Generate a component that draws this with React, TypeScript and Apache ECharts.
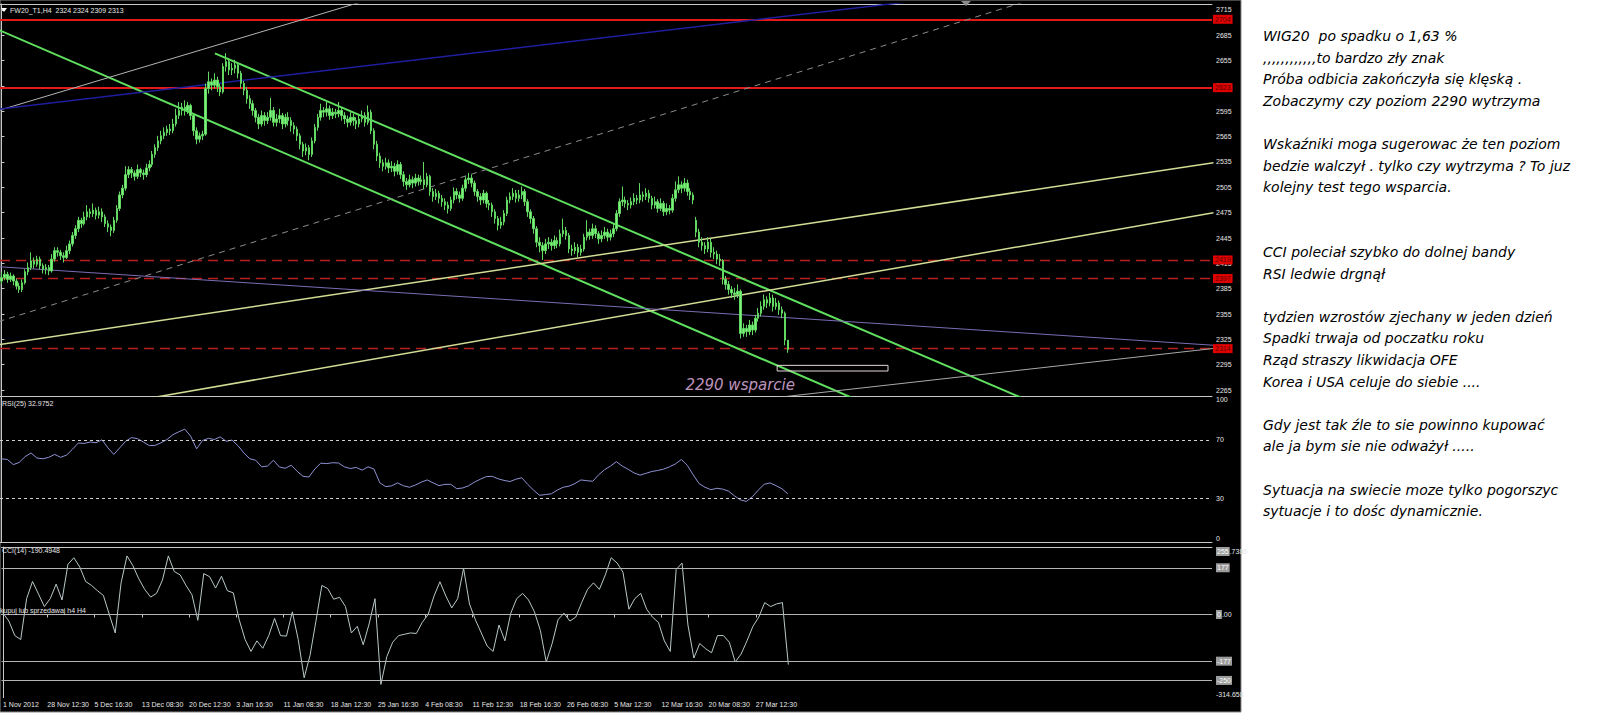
import React, { useEffect, useRef } from "react";
import * as echarts from "echarts";

// ---------- data ----------
const SLOTS = 410; // bar slots across the chart window (H4 bars)
const FIRST_TICK = 15;
const TICK_STEP = 16;
const firstLabel = "1 Nov 2012";
const timeLabels = [
  "28 Nov 12:30", "5 Dec 16:30", "13 Dec 08:30", "20 Dec 12:30", "3 Jan 16:30", "11 Jan 08:30",
  "18 Jan 12:30", "25 Jan 16:30", "4 Feb 08:30", "11 Feb 12:30", "18 Feb 16:30", "26 Feb 08:30",
  "5 Mar 12:30", "12 Mar 16:30", "20 Mar 08:30", "27 Mar 12:30",
];
const priceTicks = [2715, 2685, 2655, 2625, 2595, 2565, 2535, 2505, 2475, 2445, 2415, 2385, 2355, 2325, 2295, 2265];
const rsiTicks = [70, 30];
const cciTicks = [177, 0, -177, -250];
const cciMax = 255.7386;
const cciMin = -314.658;

// [open, close, low, high]
const ohlc = [
  [2394,2398,2390,2404],[2398,2402,2395,2407],[2402,2396,2392,2405],[2396,2400,2393,2404],[2400,2394,2389,2402],
  [2394,2388,2384,2397],[2388,2384,2380,2392],[2384,2392,2381,2396],[2392,2405,2390,2408],[2405,2410,2401,2416],
  [2410,2418,2407,2428],[2418,2414,2409,2422],[2414,2420,2411,2424],[2420,2412,2408,2423],[2412,2408,2403,2415],
  [2408,2410,2402,2414],[2410,2406,2401,2413],[2406,2420,2404,2426],[2420,2430,2417,2434],[2430,2428,2423,2434],
  [2428,2424,2419,2431],[2424,2422,2416,2428],[2422,2430,2420,2436],[2430,2438,2426,2442],[2438,2448,2435,2452],
  [2448,2456,2444,2460],[2456,2466,2452,2470],[2466,2462,2457,2469],[2462,2470,2460,2476],[2470,2476,2466,2484],
  [2476,2474,2469,2480],[2474,2478,2470,2486],[2478,2472,2467,2481],[2472,2476,2468,2482],[2476,2470,2464,2480],
  [2470,2462,2458,2473],[2462,2458,2452,2466],[2458,2454,2447,2461],[2454,2466,2451,2470],[2466,2480,2463,2484],
  [2480,2496,2477,2500],[2496,2504,2492,2508],[2504,2520,2501,2530],[2520,2526,2516,2530],[2526,2522,2516,2529],
  [2522,2518,2513,2525],[2518,2526,2515,2532],[2526,2522,2517,2528],[2522,2520,2514,2526],[2520,2528,2517,2533],
  [2528,2532,2524,2537],[2532,2544,2529,2548],[2544,2552,2540,2556],[2552,2560,2548,2566],[2560,2566,2556,2572],
  [2566,2570,2562,2576],[2570,2574,2566,2578],[2574,2572,2567,2580],[2572,2580,2569,2586],[2580,2590,2577,2598],
  [2590,2596,2586,2606],[2596,2600,2590,2605],[2600,2596,2590,2608],[2596,2602,2592,2606],[2602,2590,2585,2604],
  [2590,2572,2566,2592],[2572,2562,2556,2576],[2562,2566,2558,2570],[2566,2568,2561,2572],[2568,2622,2566,2628],
  [2622,2630,2616,2642],[2630,2626,2620,2634],[2626,2632,2622,2640],[2632,2624,2618,2636],[2624,2618,2613,2628],
  [2618,2648,2616,2652],[2648,2654,2642,2664],[2654,2644,2638,2658],[2644,2646,2638,2652],[2646,2650,2640,2656],
  [2650,2640,2634,2652],[2640,2628,2622,2643],[2628,2620,2614,2631],[2620,2610,2604,2624],[2610,2604,2598,2614],
  [2604,2596,2590,2608],[2596,2588,2582,2599],[2588,2580,2574,2592],[2580,2590,2577,2596],[2590,2584,2578,2594],
  [2584,2588,2580,2594],[2588,2596,2584,2611],[2596,2582,2577,2600],[2582,2586,2577,2592],[2586,2590,2581,2598],
  [2590,2580,2574,2593],[2580,2588,2576,2592],[2588,2584,2578,2594],[2584,2578,2571,2588],[2578,2574,2568,2582],
  [2574,2566,2560,2577],[2566,2556,2550,2569],[2556,2548,2541,2559],[2548,2552,2543,2557],[2552,2544,2537,2555],
  [2544,2560,2541,2564],[2560,2576,2557,2580],[2576,2588,2572,2592],[2588,2596,2584,2604],[2596,2594,2588,2600],
  [2594,2598,2589,2606],[2598,2590,2585,2602],[2590,2594,2586,2599],[2594,2592,2587,2598],[2592,2596,2588,2606],
  [2596,2590,2584,2599],[2590,2586,2580,2594],[2586,2582,2576,2590],[2582,2588,2578,2594],[2588,2584,2578,2592],
  [2584,2580,2574,2588],[2580,2586,2576,2592],[2586,2590,2582,2596],[2590,2582,2577,2594],[2582,2594,2579,2602],
  [2594,2572,2568,2597],[2572,2556,2550,2575],[2556,2542,2536,2560],[2542,2534,2528,2546],[2534,2530,2524,2538],
  [2530,2534,2526,2540],[2534,2528,2522,2538],[2528,2530,2523,2536],[2530,2524,2518,2534],[2524,2532,2520,2537],
  [2532,2520,2515,2535],[2520,2512,2506,2524],[2512,2508,2502,2516],[2508,2514,2505,2520],[2514,2510,2504,2518],
  [2510,2516,2506,2521],[2516,2512,2507,2520],[2512,2514,2508,2519],[2514,2508,2503,2535],[2508,2518,2505,2522],
  [2518,2500,2495,2520],[2500,2494,2488,2504],[2494,2498,2490,2503],[2498,2492,2486,2501],[2492,2488,2482,2496],
  [2488,2484,2478,2492],[2484,2480,2474,2488],[2480,2490,2477,2494],[2490,2500,2486,2505],[2500,2496,2491,2504],
  [2496,2492,2487,2500],[2492,2504,2489,2508],[2504,2514,2500,2518],[2514,2516,2509,2522],[2516,2510,2505,2520],
  [2510,2500,2495,2513],[2500,2494,2488,2503],[2494,2490,2484,2498],[2490,2498,2486,2502],[2498,2486,2481,2500],
  [2486,2484,2478,2490],[2484,2476,2470,2487],[2476,2468,2462,2479],[2468,2460,2454,2471],[2460,2464,2456,2470],
  [2464,2474,2460,2478],[2474,2490,2471,2494],[2490,2494,2486,2499],[2494,2498,2490,2504],[2498,2492,2487,2502],
  [2492,2496,2488,2502],[2496,2500,2491,2506],[2500,2488,2483,2503],[2488,2476,2470,2491],[2476,2468,2462,2479],
  [2468,2456,2450,2471],[2456,2440,2434,2459],[2440,2436,2428,2446],[2436,2430,2419,2440],[2430,2438,2426,2444],
  [2438,2440,2432,2446],[2440,2436,2430,2444],[2436,2442,2432,2448],[2442,2438,2433,2446],[2438,2450,2435,2455],
  [2450,2454,2446,2468],[2454,2448,2443,2458],[2448,2432,2427,2451],[2432,2430,2424,2437],[2430,2434,2426,2440],
  [2434,2428,2422,2438],[2428,2432,2424,2437],[2432,2446,2429,2450],[2446,2452,2442,2466],[2452,2448,2443,2456],
  [2448,2456,2444,2462],[2456,2450,2445,2460],[2450,2444,2438,2453],[2444,2448,2440,2454],[2448,2452,2444,2458],
  [2452,2446,2441,2456],[2446,2450,2442,2455],[2450,2456,2446,2462],[2456,2474,2453,2478],[2474,2488,2470,2492],
  [2488,2490,2483,2506],[2490,2486,2481,2494],[2486,2484,2478,2490],[2484,2488,2480,2493],[2488,2492,2484,2498],
  [2492,2490,2485,2496],[2490,2496,2486,2510],[2496,2494,2488,2500],[2494,2498,2490,2504],[2498,2492,2487,2502],
  [2492,2484,2479,2495],[2484,2488,2480,2494],[2488,2480,2475,2491],[2480,2486,2477,2492],[2486,2476,2471,2489],
  [2476,2480,2472,2486],[2480,2478,2473,2484],[2478,2492,2475,2497],[2492,2502,2488,2512],[2502,2508,2498,2518],
  [2508,2504,2498,2512],[2504,2510,2500,2516],[2510,2500,2495,2514],[2500,2496,2490,2504],[2496,2490,2485,2499],
  [2466,2452,2446,2470],[2452,2440,2434,2456],[2440,2436,2430,2446],[2436,2432,2426,2440],[2432,2440,2428,2446],
  [2440,2428,2422,2444],[2428,2426,2420,2434],[2426,2420,2414,2430],[2420,2418,2412,2426],[2418,2396,2390,2420],
  [2396,2390,2384,2400],[2390,2384,2378,2394],[2384,2380,2374,2388],[2380,2378,2372,2386],[2378,2382,2374,2390],
  [2382,2332,2326,2384],[2332,2338,2328,2344],[2338,2334,2328,2342],[2334,2342,2330,2348],[2342,2336,2330,2346],
  [2336,2350,2333,2354],[2350,2356,2346,2362],[2356,2364,2352,2370],[2364,2372,2360,2378],[2372,2368,2362,2376],
  [2368,2374,2364,2380],[2374,2364,2358,2378],[2364,2368,2360,2374],[2368,2360,2354,2371],[2360,2356,2350,2364],
  [2356,2324,2318,2358],[2324,2313,2309,2324],
];

// RSI(25) and CCI(14), read every second bar
const RSI_STEP = 2;
const rsiValues = [
  57, 56.5, 53, 54.5, 58.5, 61, 57.5, 57, 58, 60, 58, 59.5, 63.5, 67.8, 67.5, 68.5, 68, 70, 64.5, 60,
  64.5, 69, 71.5, 70.8, 68.5, 66, 66.2, 68, 70.2, 73.5, 75.5, 77.3, 72.5, 63.8, 69.5, 71, 70.2, 72, 69, 69.8,
  66, 61, 57, 56, 51.5, 52, 56, 51.4, 50.5, 52.6, 48.5, 45, 44.5, 50, 54, 53.7, 54.3, 54.1, 51.5, 50.3,
  51.1, 49.2, 51.5, 50, 40.5, 37.9, 38.5, 40.5, 38.5, 37.5, 39, 41, 42.5, 40.5, 38.6, 39.5, 39.5, 36.5, 37, 38.5,
  41, 43, 44.8, 45, 43.3, 42.2, 41.4, 43, 44, 39.5, 35.5, 32, 32.5, 33, 35.5, 37.5, 38.3, 40, 42.5, 42,
  41.6, 46, 49.5, 52, 55, 52, 49.8, 47.3, 45.8, 47, 48.3, 49, 49.9, 51.5, 53.5, 56.5, 52.5, 46, 40, 37.5,
  35.8, 36.8, 36.2, 34.8, 31.5, 28.8, 27.8, 31, 35.5, 39.5, 40.5, 38.6, 36.5, 33,
];
const cciValues = [
  5, -25, -80, -95, 60, 125, 78, 30, 60, 115, 55, 190, 215, 180, 125, 110, 90, 72, 0, -70,
  120, 222, 185, 135, 95, 66, 80, 130, 222, 163, 150, 110, 75, -22, 155, 143, 100, 145, 90, 82,
  -20, -95, -140, -100, -128, -80, -15, -80, -82, 10, -95, -240, -155, -25, 110, 98, 58, 65, 30, -70,
  -45, -115, -36, 60, -265, -160, -105, -80, -75, -70, -72, -30, 0, 70, 124, 70, 25, 60, 175, 40,
  -20, -70, -120, -140, -40, -100, 5, 60, 80, 55, 10, -60, -180, -110, -20, 5, -25, -10, 45, 95,
  120, 95, 150, 215, 195, 160, 20, 60, 80, 20, -10, -30, -100, -140, 170, 195, -40, -165, -110, -130,
  -145, -80, -80, -105, -180, -150, -100, -45, -10, 45, 30, 40, 45, -190,
];

// horizontal levels
const solidLevels = [2704, 2623];
const dashedLevels = [2419, 2397, 2314];

// trend lines: [bar index, price] pairs
const channelLower = [[-1, 2691.5], [288, 2255.4]];
const channelUpper = [[72.2, 2663.7], [345, 2255.9]];
const grayRay = [[-1, 2596], [125, 2728]];
const blueLine = [[-1, 2597.6], [310, 2726]];
const dashedRay = [[-1, 2346], [350, 2729]];
const yellowUpper = [[-1, 2318.5], [410, 2534]];
const yellowLower = [[44, 2251.6], [410, 2474.9]];
const purpleLine = [[-1, 2411], [410, 2318]];
const grayLower = [[250, 2251.3], [410, 2314.2]];
const supportBox = [[262.4, 2294.2], [299.9, 2287.5]];
const supportNote = { text: "2290 wsparcie", at: [231.2, 2271] };

const header = "FW20_T1,H4  2324 2324 2309 2313";
const rsiHeader = "RSI(25) 32.9752";
const cciHeader = "CCI(14) -190.4948";
const indicatorNote = "kupuj lub sprzedawaj h4 H4";

const commentLines = [
  "WIG20  po spadku o 1,63 %",
  ",,,,,,,,,,,,to bardzo zły znak",
  "Próba odbicia zakończyła się klęską .",
  "Zobaczymy czy poziom 2290 wytrzyma",
  "",
  "Wskaźniki moga sugerowac że ten poziom",
  "bedzie walczył . tylko czy wytrzyma ? To juz",
  "kolejny test tego wsparcia.",
  "",
  "",
  "CCI poleciał szybko do dolnej bandy",
  "RSI ledwie drgnął",
  "",
  "tydzien wzrostów zjechany w jeden dzień",
  "Spadki trwaja od poczatku roku",
  "Rząd straszy likwidacja OFE",
  "Korea i USA celuje do siebie ....",
  "",
  "Gdy jest tak źle to sie powinno kupować",
  "ale ja bym sie nie odważył .....",
  "",
  "Sytuacja na swiecie moze tylko pogorszyc",
  "sytuacje i to dośc dynamicznie.",
];

// ---------- chart ----------
const SMALL_FONT = "'Liberation Sans', Arial, sans-serif";
const AXIS_COLOR = "#c8c8c8";
const LABEL_COLOR = "#e6e6e6";

const categories = Array.from({ length: SLOTS }, (_, i) => {
  if (i === 0) return firstLabel;
  const k = (i - FIRST_TICK) / TICK_STEP;
  if (i >= FIRST_TICK && Number.isInteger(k) && k < timeLabels.length) return timeLabels[k];
  return "";
});
const showTick = (i: number) => categories[i] !== "";

function lineSeries(name: string, pts: number[][], color: string, width: number, type: any = "solid") {
  return {
    name,
    type: "line",
    xAxisIndex: 1,
    yAxisIndex: 0,
    data: pts,
    symbol: "none",
    clip: true,
    silent: true,
    z: 3,
    lineStyle: { color, width, type },
  };
}

export default function App() {
  const ref = useRef<HTMLDivElement>(null);
  useEffect(() => {
    if (!ref.current) return;
    const chart = echarts.init(ref.current, undefined, { renderer: "svg" });

    const valueX = (grid: number, position: string, showLine: boolean) => ({
      type: "value",
      gridIndex: grid,
      min: -0.5,
      max: SLOTS - 0.5,
      position,
      axisLine: { show: showLine, onZero: false, lineStyle: { color: AXIS_COLOR, width: 1 } },
      axisTick: { show: false },
      axisLabel: { show: false },
      splitLine: { show: false },
    });

    const yBase = (grid: number, min: number, max: number) => ({
      type: "value",
      gridIndex: grid,
      position: "right",
      min,
      max,
      splitLine: { show: false },
      axisLine: { show: true, lineStyle: { color: AXIS_COLOR, width: 1 } },
      axisTick: { show: false },
    });
    const plainNum = (v: number) => String(v);
    const smallLabel = { color: LABEL_COLOR, fontSize: 7, fontFamily: SMALL_FONT, margin: 4, formatter: plainNum };
    const box = { backgroundColor: "#9c9c9c", color: "#ffffff", fontSize: 7, fontFamily: SMALL_FONT, padding: [1, 1] };
    const plain = { color: LABEL_COLOR, fontSize: 7, fontFamily: SMALL_FONT };

    const cciFormat = (v: number) => {
      if (v === 0) return "{b|0}{n|.00}";
      return "{b|" + String(v) + "}";
    };
    const maxParts = String(cciMax).split(".");

    const option: any = {
      animation: false,
      backgroundColor: "transparent",
      grid: [
        { left: 0, top: 4, width: 1212, height: 392 },
        { left: 0, top: 396, width: 1212, height: 146 },
        { left: 0, top: 547, width: 1212, height: 150.5 },
      ],
      xAxis: [
        {
          type: "category", gridIndex: 0, data: categories, boundaryGap: true,
          axisLine: { show: true, lineStyle: { color: AXIS_COLOR } }, axisTick: { show: false }, axisLabel: { show: false },
        },
        valueX(0, "top", true),
        valueX(1, "bottom", true),
        valueX(2, "top", true),
        {
          type: "category", gridIndex: 2, data: categories, boundaryGap: true, position: "bottom",
          axisLine: { show: true, lineStyle: { color: AXIS_COLOR } },
          axisTick: { show: true, interval: showTick, alignWithLabel: true, length: 3, lineStyle: { color: AXIS_COLOR } },
          axisLabel: { show: true, interval: showTick, align: "left", margin: 3, color: LABEL_COLOR, fontSize: 7, fontFamily: SMALL_FONT },
        },
      ],
      yAxis: [
        {
          ...yBase(0, 2257.9, 2722.1),
          axisTick: { show: true, length: 3, customValues: priceTicks, lineStyle: { color: AXIS_COLOR } },
          axisLabel: { ...smallLabel, customValues: priceTicks },
        },
        {
          ...yBase(1, 0, 100),
          axisLabel: { ...smallLabel, customValues: rsiTicks },
        },
        {
          ...yBase(1, 0, 100), axisLine: { show: false },
          axisLabel: { ...smallLabel, customValues: [100], verticalAlign: "top" },
        },
        {
          ...yBase(1, 0, 100), axisLine: { show: false },
          axisLabel: { ...smallLabel, customValues: [0], verticalAlign: "bottom" },
        },
        {
          ...yBase(2, cciMin, cciMax),
          axisLabel: { ...smallLabel, customValues: cciTicks, formatter: cciFormat, rich: { b: box, n: plain } },
        },
        {
          ...yBase(2, cciMin, cciMax), axisLine: { show: false },
          axisLabel: {
            ...smallLabel, customValues: [cciMax], verticalAlign: "top",
            formatter: () => "{b|" + maxParts[0] + "}{n|." + maxParts[1] + "}",
            rich: { b: box, n: plain },
          },
        },
        {
          ...yBase(2, cciMin, cciMax), axisLine: { show: false },
          axisLabel: { ...smallLabel, customValues: [cciMin], verticalAlign: "bottom" },
        },
      ],
      series: [
        {
          name: "FW20",
          type: "candlestick",
          xAxisIndex: 0,
          yAxisIndex: 0,
          data: ohlc,
          barWidth: 2,
          z: 4,
          silent: true,
          itemStyle: {
            color: "#7ef27e", color0: "#7ef27e", borderColor: "#62d862", borderColor0: "#62d862", borderWidth: 1,
          },
          markLine: {
            symbol: ["none", "none"],
            silent: true,
            animation: false,
            z: 2,
            label: {
              show: true, position: "end", distance: 1, formatter: (p: any) => String(p.value),
              backgroundColor: "#e00000", color: "#5a0000", fontSize: 7, fontFamily: SMALL_FONT, padding: [1, 2],
            },
            data: [
              ...solidLevels.map((v) => ({ yAxis: v, lineStyle: { color: "#e41a1a", width: 2, type: "solid" } })),
              ...dashedLevels.map((v) => ({ yAxis: v, lineStyle: { color: "#b82020", width: 1.3, type: [10, 6] } })),
            ],
          },
        },
        lineSeries("channelLower", channelLower, "#5fe05f", 2),
        lineSeries("channelUpper", channelUpper, "#5fe05f", 2),
        lineSeries("grayRay", grayRay, "#b4b4b4", 1),
        lineSeries("blueLine", blueLine, "#1e1e9e", 1.5),
        lineSeries("dashedRay", dashedRay, "#8c8c8c", 1, [6, 5]),
        lineSeries("yellowUpper", yellowUpper, "#d4dc96", 1.5),
        lineSeries("yellowLower", yellowLower, "#d4dc96", 1.5),
        lineSeries("purpleLine", purpleLine, "#7c6cb4", 1),
        lineSeries("grayLower", grayLower, "#a8a8a8", 1),
        lineSeries(
          "supportBox",
          [
            [supportBox[0][0], supportBox[0][1]],
            [supportBox[1][0], supportBox[0][1]],
            [supportBox[1][0], supportBox[1][1]],
            [supportBox[0][0], supportBox[1][1]],
            [supportBox[0][0], supportBox[0][1]],
          ],
          "#e6d8d8",
          1
        ),
        {
          name: "note",
          type: "scatter",
          xAxisIndex: 1,
          yAxisIndex: 0,
          data: [supportNote.at],
          symbolSize: 1,
          itemStyle: { color: "rgba(0,0,0,0)" },
          silent: true,
          z: 6,
          label: {
            show: true, position: "right", distance: 0, formatter: supportNote.text,
            color: "#ecbcec", fontSize: 15, fontStyle: "italic", fontFamily: "'Comic Sans MS', 'DejaVu Sans', sans-serif",
          },
        },
        {
          name: "RSI",
          type: "line",
          xAxisIndex: 2,
          yAxisIndex: 1,
          data: rsiValues.map((v, k) => [k * RSI_STEP, v]),
          symbol: "none",
          silent: true,
          lineStyle: { color: "#8e92d2", width: 1 },
          markLine: {
            symbol: ["none", "none"], silent: true, label: { show: false },
            lineStyle: { color: "#d0d0d0", width: 1, type: [3, 3] },
            data: rsiTicks.map((v) => ({ yAxis: v })),
          },
        },
        {
          name: "CCI",
          type: "line",
          xAxisIndex: 3,
          yAxisIndex: 4,
          data: cciValues.map((v, k) => [k * RSI_STEP, v]),
          symbol: "none",
          silent: true,
          lineStyle: { color: "#b8c8c8", width: 1 },
          markLine: {
            symbol: ["none", "none"], silent: true, label: { show: false },
            lineStyle: { color: "#b4b4b4", width: 1, type: "solid" },
            data: cciTicks.map((v) => ({ yAxis: v })),
          },
        },
      ],
      graphic: [
        {
          type: "rect", z: -100, silent: true,
          shape: { x: 0, y: 0, width: 1241, height: 712 },
          style: { fill: "#000000", stroke: "#8a8a8a", lineWidth: 1 },
        },
        { type: "polygon", z: 50, silent: true, shape: { points: [[1, 8], [7, 8], [4, 12]] }, style: { fill: "#ffffff" } },
        { type: "polygon", z: 50, silent: true, shape: { points: [[961, 1], [971, 1], [966, 6]] }, style: { fill: "#8a8a8a" } },
        {
          type: "text", z: 50, silent: true, x: 10, y: 10,
          style: { text: header, fill: LABEL_COLOR, font: "7px " + SMALL_FONT, verticalAlign: "middle" },
        },
        {
          type: "text", z: 50, silent: true, x: 2, y: 403,
          style: { text: rsiHeader, fill: LABEL_COLOR, font: "7px " + SMALL_FONT, verticalAlign: "middle" },
        },
        {
          type: "text", z: 50, silent: true, x: 2, y: 550,
          style: { text: cciHeader, fill: LABEL_COLOR, font: "7px " + SMALL_FONT, verticalAlign: "middle" },
        },
        {
          type: "text", z: 50, silent: true, x: 0, y: 610,
          style: { text: indicatorNote, fill: LABEL_COLOR, font: "7px " + SMALL_FONT, verticalAlign: "middle" },
        },
        {
          type: "text", z: 50, silent: true, x: 1263, y: 25.2,
          style: {
            text: commentLines.join("\n"),
            fill: "#000000",
            font: "italic 14px 'Comic Sans MS', 'DejaVu Sans', sans-serif",
            lineHeight: 21.6,
            verticalAlign: "top",
          },
        },
      ],
    };

    chart.setOption(option);
    return () => chart.dispose();
  }, []);

  return <div ref={ref} style={{ position: "absolute", left: 0, top: 0, width: 1600, height: 724 }} />;
}
